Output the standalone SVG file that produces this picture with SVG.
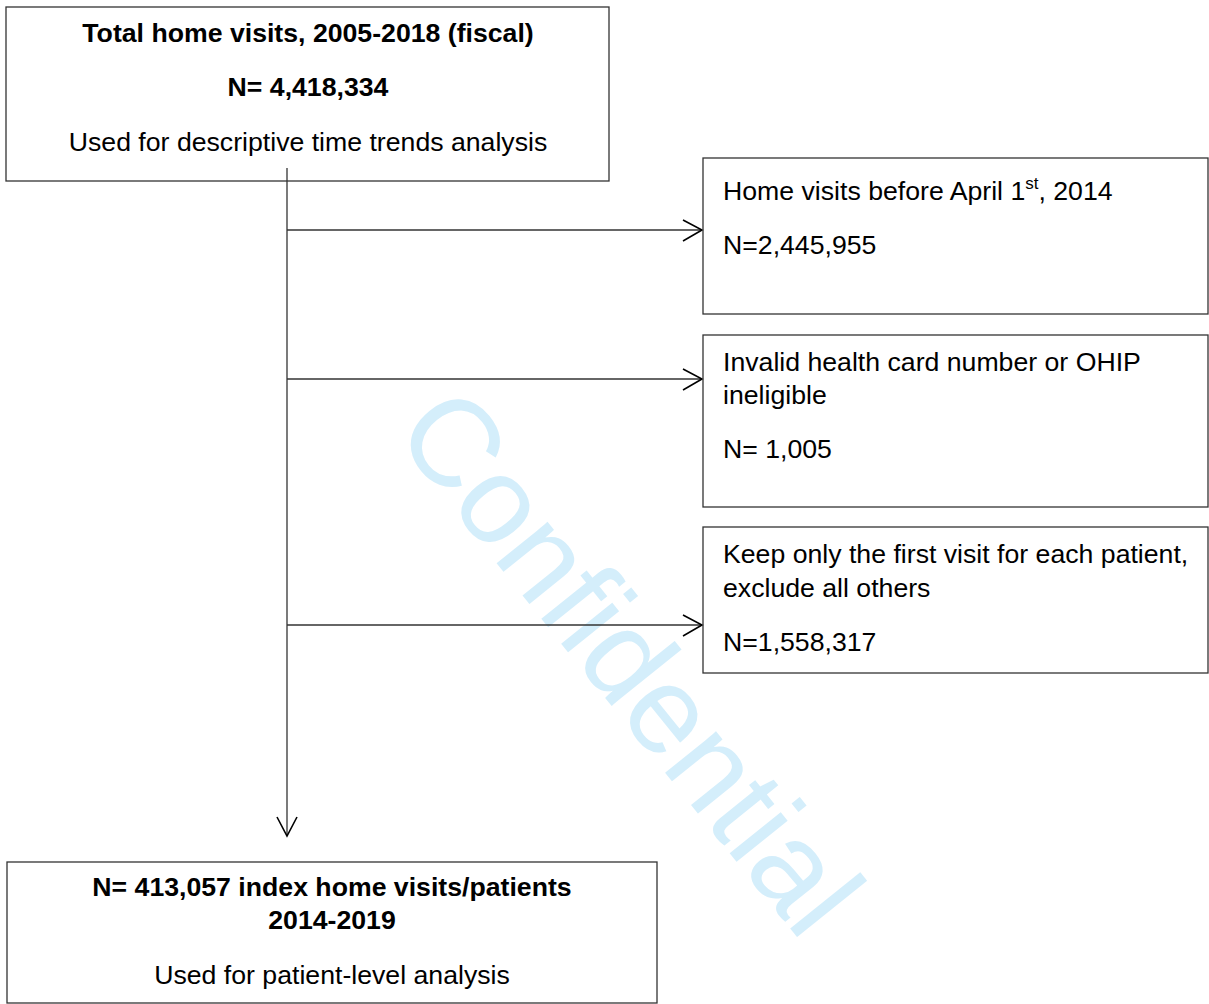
<svg xmlns="http://www.w3.org/2000/svg" width="1209" height="1004" viewBox="0 0 1209 1004">
<style>
text{font-family:"Liberation Sans",Arial,sans-serif;font-size:26.67px;fill:#000}
.b{font-weight:bold}
.c{text-anchor:middle}
.box{fill:none;stroke:#333;stroke-width:1.3}
.ln{fill:none;stroke:#333;stroke-width:1.3}
.ah{fill:none;stroke:#000;stroke-width:1.6}
.wm{font-size:124px;fill:#d4eefb}
</style>
<rect width="1209" height="1004" fill="#fff"/>
<text class="wm" transform="translate(392,433) rotate(51.2)">Confidential</text>
<g id="connectors">
<line class="ln" x1="287" y1="168" x2="287" y2="836"/>
<polyline class="ah" points="277,817 287,836 297,817"/>
<line class="ln" x1="287" y1="230" x2="702" y2="230"/>
<polyline class="ah" points="683,220 702,230 683,241"/>
<line class="ln" x1="287" y1="379" x2="702" y2="379"/>
<polyline class="ah" points="683,369 702,379 683,390"/>
<line class="ln" x1="287" y1="625" x2="702" y2="625"/>
<polyline class="ah" points="683,615 702,625 683,636"/>
</g>
<g id="total">
<rect class="box" x="6" y="7" width="603" height="174"/>
<text class="b c" x="308" y="42">Total home visits, 2005-2018 (fiscal)</text>
<text class="b c" x="308" y="96">N= 4,418,334</text>
<text class="c" x="308" y="151">Used for descriptive time trends analysis</text>
</g>
<g id="before2014">
<rect class="box" x="703" y="158" width="505" height="156"/>
<text x="723" y="200">Home visits before April 1<tspan dy="-11" font-size="17">st</tspan><tspan dy="11">, 2014</tspan></text>
<text x="723" y="254">N=2,445,955</text>
</g>
<g id="invalid">
<rect class="box" x="703" y="335" width="505" height="172"/>
<text x="723" y="371">Invalid health card number or OHIP</text>
<text x="723" y="404">ineligible</text>
<text x="723" y="458">N= 1,005</text>
</g>
<g id="firstvisit">
<rect class="box" x="703" y="527" width="505" height="146"/>
<text x="723" y="563">Keep only the first visit for each patient,</text>
<text x="723" y="597">exclude all others</text>
<text x="723" y="651">N=1,558,317</text>
</g>
<g id="index">
<rect class="box" x="7" y="862" width="650" height="141"/>
<text class="b c" x="332" y="896">N= 413,057 index home visits/patients</text>
<text class="b c" x="332" y="929">2014-2019</text>
<text class="c" x="332" y="984">Used for patient-level analysis</text>
</g>
</svg>
